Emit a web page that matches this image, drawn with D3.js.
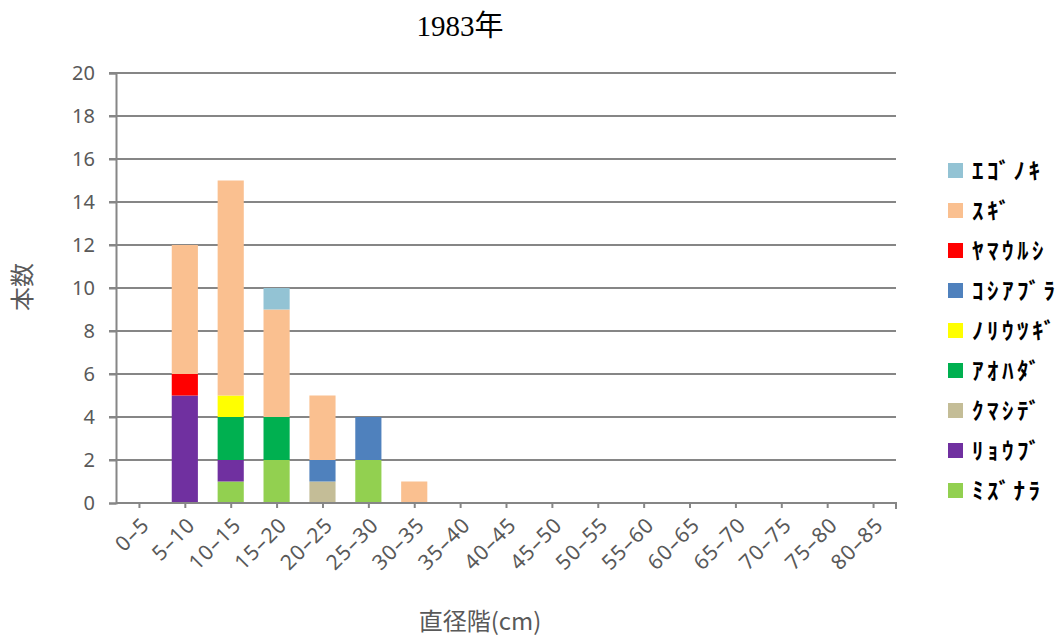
<!DOCTYPE html>
<html>
<head>
<meta charset="utf-8">
<script src="https://cdn.jsdelivr.net/npm/d3@7"></script>
<style>
  html, body { margin: 0; padding: 0; background: #fff; }
  svg { display: block; }
</style>
</head>
<body>
<svg id="chart" width="1063" height="637"></svg>
<script>
// Diameter classes (cm)
const categories = ["0–5","5–10","10–15","15–20","20–25","25–30","30–35","35–40","40–45",
  "45–50","50–55","55–60","60–65","65–70","70–75","75–80","80–85"];

// Species, in stacking order from bottom to top
const species = ["ﾐｽﾞﾅﾗ","ﾘｮｳﾌﾞ","ｸﾏｼﾃﾞ","ｱｵﾊﾀﾞ","ﾉﾘｳﾂｷﾞ","ｺｼｱﾌﾞﾗ","ﾔﾏｳﾙｼ","ｽｷﾞ","ｴｺﾞﾉｷ"];
const speciesColors = ["#92d050","#7030a0","#c4bd97","#00b050","#ffff00","#4f81bd","#ff0000","#fac090","#93c3d4"];

// Tree counts per diameter class for each species
const mizunara   = [0,0,1,2,0,2,0,0,0,0,0,0,0,0,0,0,0];
const ryoubu     = [0,5,1,0,0,0,0,0,0,0,0,0,0,0,0,0,0];
const kumashide  = [0,0,0,0,1,0,0,0,0,0,0,0,0,0,0,0,0];
const aohada     = [0,0,2,2,0,0,0,0,0,0,0,0,0,0,0,0,0];
const noriutsugi = [0,0,1,0,0,0,0,0,0,0,0,0,0,0,0,0,0];
const koshiabura = [0,0,0,0,1,2,0,0,0,0,0,0,0,0,0,0,0];
const yamaurushi = [0,1,0,0,0,0,0,0,0,0,0,0,0,0,0,0,0];
const sugi       = [0,6,10,5,3,0,1,0,0,0,0,0,0,0,0,0,0];
const egonoki    = [0,0,0,1,0,0,0,0,0,0,0,0,0,0,0,0,0];

const yTicks = [0,2,4,6,8,10,12,14,16,18,20];

const seriesValues = [mizunara, ryoubu, kumashide, aohada, noriutsugi, koshiabura, yamaurushi, sugi, egonoki];
const rows = categories.map((c, i) => {
  const r = { cat: c };
  species.forEach((s, k) => r[s] = seriesValues[k][i]);
  return r;
});

const svg = d3.select("#chart");
const plot = { left: 116, right: 896, top: 73, bottom: 503 };

const x = d3.scaleBand().domain(categories).range([plot.left, plot.right]).paddingInner(0.43).paddingOuter(0.215);
const xTick = d3.scalePoint().domain(categories).range([plot.left, plot.right]).padding(0.5);
const y = d3.scaleLinear().domain([0, 20]).range([plot.bottom, plot.top]);
const color = d3.scaleOrdinal().domain(species).range(speciesColors);

const axisColor = "#868686";
const labelColor = "#595959";
const numFont = "'Noto Sans', 'DejaVu Sans', sans-serif";

// Horizontal gridlines
svg.append("g").selectAll("line").data(yTicks.filter(d => d > 0)).join("line")
  .attr("x1", plot.left - 7).attr("x2", plot.right)
  .attr("y1", d => y(d)).attr("y2", d => y(d))
  .attr("stroke", axisColor).attr("stroke-width", 2);

// Stacked bars
const stack = d3.stack().keys(species)(rows);
svg.append("g").selectAll("g").data(stack).join("g")
  .attr("fill", d => color(d.key))
  .selectAll("rect").data(d => d.filter(p => p[1] - p[0] > 0)).join("rect")
  .attr("x", p => x(p.data.cat))
  .attr("width", x.bandwidth())
  .attr("y", p => y(p[1]))
  .attr("height", p => y(p[0]) - y(p[1]));

// Y axis
const yAxis = svg.append("g").attr("transform", `translate(${plot.left},0)`)
  .call(d3.axisLeft(y).tickValues(yTicks).tickSize(7).tickPadding(14));
yAxis.select(".domain").attr("stroke", axisColor).attr("stroke-width", 2);
yAxis.selectAll(".tick line").attr("stroke", axisColor).attr("stroke-width", 2);
yAxis.selectAll(".tick text").attr("fill", labelColor)
  .style("font-family", numFont).style("font-size", "20px");

// X axis
const xAxis = svg.append("g").attr("transform", `translate(0,${plot.bottom})`)
  .call(d3.axisBottom(xTick).tickSize(5).tickSizeOuter(0).tickPadding(4));
xAxis.select(".domain").attr("stroke", axisColor).attr("stroke-width", 2)
  .attr("d", `M${plot.left},0H${plot.right}V6`);
xAxis.selectAll(".tick line").attr("stroke", axisColor).attr("stroke-width", 2);
xAxis.selectAll(".tick text").attr("fill", labelColor)
  .style("font-family", numFont).style("font-size", "21px").style("letter-spacing", "1px")
  .attr("text-anchor", "end").attr("dy", "0.35em")
  .attr("transform", "translate(6,18) rotate(-45)")
  .attr("x", 0).attr("y", 0);

// Title
svg.append("text").attr("x", 460).attr("y", 36).attr("text-anchor", "middle")
  .style("font-family", "'Liberation Serif', 'Noto Sans CJK JP', serif")
  .style("font-size", "29px").attr("fill", "#000").text("1983年");

// Axis titles
svg.append("text").attr("transform", "translate(31,287) rotate(-90)").attr("text-anchor", "middle")
  .style("font-family", "'Noto Sans CJK JP', sans-serif").style("font-size", "24px")
  .attr("fill", labelColor).text("本数");
svg.append("text").attr("x", 480).attr("y", 630).attr("text-anchor", "middle")
  .style("font-family", "'Noto Sans CJK JP', sans-serif").style("font-size", "24px")
  .attr("fill", labelColor).text("直径階(cm)");

// Legend, top entry is the uppermost stack layer
const legendItems = species.slice().reverse();
const legend = svg.append("g").selectAll("g").data(legendItems).join("g")
  .attr("transform", (d, i) => `translate(948,${163 + i * 40})`);
legend.append("rect").attr("width", 15).attr("height", 15).attr("fill", d => color(d));
legend.append("text").attr("x", 24).attr("y", 8).attr("dy", "0.36em")
  .style("font-family", "'Noto Sans CJK JP', sans-serif").style("font-size", "23px")
  .style("letter-spacing", "3.5px")
  .style("font-weight", "bold").attr("fill", "#000").text(d => d);
</script>
</body>
</html>
